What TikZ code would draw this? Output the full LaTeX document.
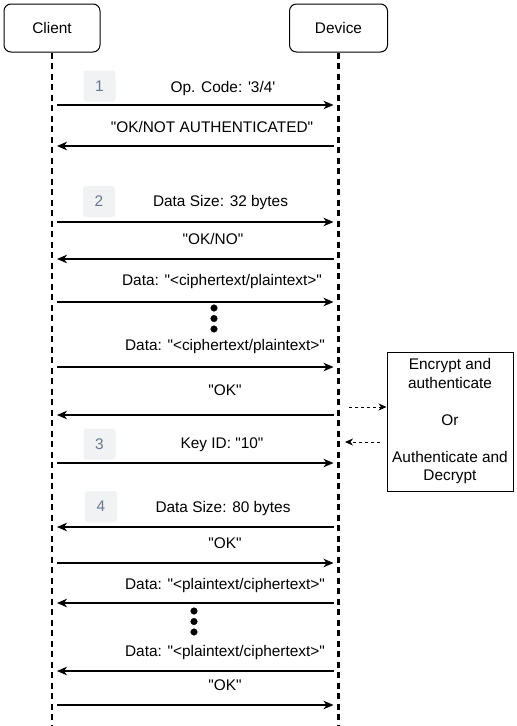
\documentclass[tikz,border=0pt]{standalone}
\usepackage{fontspec}
\setmainfont{Liberation Sans}
\usepackage{xcolor}
\usepackage{tikz}
\usetikzlibrary{arrows.meta}

\definecolor{badgefill}{HTML}{F1F2F4}
\definecolor{badgetext}{HTML}{6B778C}
\newcommand{\quoted}[1]{\textquotedbl#1\textquotedbl}

\tikzset{
    actor/.style={draw, line width=1pt, rounded corners=7pt, minimum height=48pt},
    lifeline/.style={line width=2.2pt, dash pattern=on 6pt off 4.5pt},
    msg/.style={line width=1.1pt, shorten <=5pt, shorten >=5pt, -{Stealth[length=10pt, width=8.5pt, inset=3pt]}},
    hint/.style={line width=1pt, dash pattern=on 3pt off 3pt, -{Stealth[length=8pt, width=7pt, inset=2.5pt]}},
    lbl/.style={anchor=base, inner sep=0pt},
    badge/.style={fill=badgefill, rounded corners=3pt, minimum width=32pt, minimum height=31pt, text=badgetext, inner sep=0pt},
}

\begin{document}
\begin{tikzpicture}[x=1pt, y=-1pt, font=\fontsize{15.4}{18.5}\selectfont]
            \useasboundingbox (0,0) rectangle (517,726);

            \node[actor, minimum width=96pt] (client) at (52,28) {Client};
            \node[actor, minimum width=98pt] (device) at (338.5,28) {Device};
            \coordinate (cend) at (52,726);
            \coordinate (dend) at (338.5,726);
            \draw[lifeline] (client.south) -- (cend);
            \draw[lifeline] (device.south) -- (dend);

            % step 1
            \node[badge] (b1) at (99.5,86) {1};
            \node[lbl] (m1) at (223,92) {Op. Code: \textquotesingle 3/4\textquotesingle};
            \coordinate (c1) at (52,105);
            \coordinate (d1) at (338.5,105);
            \draw[msg] (c1) -- (d1); % client-device
            \node[lbl] (m2) at (212,132.5) {\quoted{OK/NOT AUTHENTICATED}};
            \coordinate (c2) at (52,146);
            \coordinate (d2) at (338.5,146);
            \draw[msg] (d2) -- (c2); % device-client

            % step 2
            \node[badge] (b2) at (99,201.5) {2};
            \node[lbl] (m3) at (220.5,206.5) {Data Size: 32 bytes};
            \coordinate (c3) at (52,222);
            \coordinate (d3) at (338.5,222);
            \draw[msg] (c3) -- (d3); % client-device
            \node[lbl] (m4) at (213,244.5) {\quoted{OK/NO}};
            \coordinate (c4) at (52,259);
            \coordinate (d4) at (338.5,259);
            \draw[msg] (d4) -- (c4); % device-client
            \node[lbl] (m5) at (222,285.5) {Data: \quoted{<ciphertext/plaintext>}};
            \coordinate (c5) at (52,302);
            \coordinate (d5) at (338.5,302);
            \draw[msg] (c5) -- (d5); % client-device
            \draw[fill=black] (214,308) circle (3.3pt);
            \draw[fill=black] (214,318.5) circle (3.3pt);
            \draw[fill=black] (214,329) circle (3.3pt);
            \node[lbl] (m6) at (225,350.5) {Data: \quoted{<ciphertext/plaintext>}};
            \coordinate (c6) at (52,367);
            \coordinate (d6) at (338.5,367);
            \draw[msg] (c6) -- (d6); % client-device
            \node[lbl] (m7) at (225,395.5) {\quoted{OK}};
            \coordinate (c7) at (52,415);
            \coordinate (d7) at (338.5,415);
            \draw[msg] (d7) -- (c7); % device-client

            % crypto box
            \node[draw, line width=1pt, minimum width=126pt, minimum height=139pt, align=center, inner sep=0pt] (crypto) at (450,421.5)
                {Encrypt and\\authenticate\\[18.5pt]Or\\[18.5pt]Authenticate and\\Decrypt};
            \coordinate (h1) at (349,407);
            \draw[hint] (h1) -- (crypto.west |- h1); % device-crypto
            \coordinate (h2) at (345,442);
            \coordinate (h2s) at (380,442);
            \draw[hint] (h2s) -- (h2); % crypto-device

            % step 3
            \node[badge] (b3) at (99.5,444) {3};
            \node[lbl] (m8) at (222,448.5) {Key ID: \quoted{10}};
            \coordinate (c8) at (52,463);
            \coordinate (d8) at (338.5,463);
            \draw[msg] (c8) -- (d8); % client-device

            % step 4
            \node[badge] (b4) at (101,506.5) {4};
            \node[lbl] (m9) at (223,512.5) {Data Size: 80 bytes};
            \coordinate (c9) at (52,527);
            \coordinate (d9) at (338.5,527);
            \draw[msg] (d9) -- (c9); % device-client
            \node[lbl] (m10) at (225,548.5) {\quoted{OK}};
            \coordinate (c10) at (52,563);
            \coordinate (d10) at (338.5,563);
            \draw[msg] (c10) -- (d10); % client-device
            \node[lbl] (m11) at (225,589.5) {Data: \quoted{<plaintext/ciphertext>}};
            \coordinate (c11) at (52,603);
            \coordinate (d11) at (338.5,603);
            \draw[msg] (d11) -- (c11); % device-client
            \draw[fill=black] (194,611) circle (3.3pt);
            \draw[fill=black] (194,621.5) circle (3.3pt);
            \draw[fill=black] (194,632) circle (3.3pt);
            \node[lbl] (m12) at (225,656.5) {Data: \quoted{<plaintext/ciphertext>}};
            \coordinate (c12) at (52,671);
            \coordinate (d12) at (338.5,671);
            \draw[msg] (d12) -- (c12); % device-client
            \node[lbl] (m13) at (225,690.5) {\quoted{OK}};
            \coordinate (c13) at (52,705);
            \coordinate (d13) at (338.5,705);
            \draw[msg] (c13) -- (d13); % client-device
        \end{tikzpicture}
\end{document}
